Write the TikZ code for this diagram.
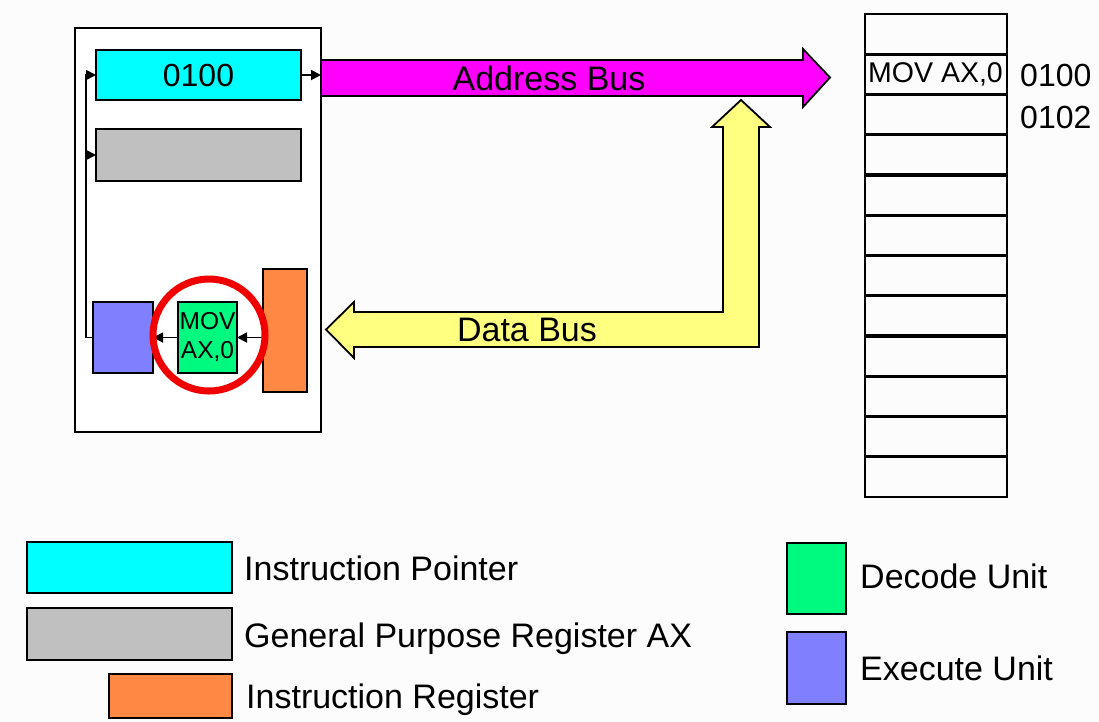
\documentclass[tikz,border=0pt]{standalone}
\usepackage{fontspec}
\setmainfont{Liberation Sans}
\usetikzlibrary{arrows.meta}
\definecolor{bgc}{RGB}{252,252,252}
\definecolor{ipc}{RGB}{0,255,255}
\definecolor{gpc}{RGB}{192,192,192}
\definecolor{irc}{RGB}{255,136,68}
\definecolor{dec}{RGB}{0,250,128}
\definecolor{exc}{RGB}{128,128,255}
\definecolor{abus}{RGB}{255,0,255}
\definecolor{dbus}{RGB}{255,255,128}
\definecolor{ring}{RGB}{240,0,0}
\tikzset{
  unit/.style={draw=black, line width=2, inner sep=0, outer sep=0, rectangle},
  wire/.style={line width=1.8, -{Triangle[length=10pt,width=10pt]}},
  bus/.style={draw=black, line width=1.8, line join=miter},
  lbl/.style={font=\fontsize{34}{40}\selectfont, inner sep=0},
  cell/.style={draw=black, line width=2, inner sep=0, outer sep=0, minimum width=142, minimum height=40.25},
}
\begin{document}
\begin{tikzpicture}[x=1pt, y=-1pt]
  \fill[bgc] (0,0) rectangle (1099,721);
  \useasboundingbox (0,0) rectangle (1099,721);

  % processor frame
  \node[unit, fill=white, minimum width=246, minimum height=404] (cpu) at (198,230) {};

  % registers and units
  \node[unit, fill=ipc, minimum width=205, minimum height=50, font=\fontsize{32}{36}\selectfont] (ip) at (198.5,75) {0100};
  \node[unit, fill=gpc, minimum width=205, minimum height=52] (gp) at (198.5,155) {};
  \node[unit, fill=exc, minimum width=60, minimum height=71] (ex) at (123,337.5) {};
  \node[unit, fill=dec, minimum width=59, minimum height=71, align=center,
        font=\fontsize{24.5}{29}\selectfont] (du) at (207.5,337.5) {MOV\\AX,0};
  \node[unit, fill=irc, minimum width=44, minimum height=123] (ir) at (285,330.5) {};

  % internal paths
  \draw[wire] (ex.west) -- ++(-7,0) coordinate (fb) |- (ip.west);
  \draw[wire] (fb |- gp.west) -- (gp.west);
  \draw[wire] (ip.east) -- (ip.east -| cpu.east);
  \draw[wire] (ir.west |- du.east) -- (du.east);
  \draw[wire] (du.west) -- (ex.east);

  % highlight ring
  \node[circle, draw=ring, line width=7, inner sep=0, minimum size=112] (hl) at (209,335) {};

  % address bus
  \draw[bus, fill=abus] (321,60) -- (803,60) -- (803,49) -- (830,77.5) -- (803,107)
    -- (803,96) -- (321,96) -- cycle;
  \node[lbl] (abl) at (549,78) {Address Bus};

  % data bus
  \draw[bus, fill=dbus] (326,329.5) -- (354,302) -- (354,312) -- (723,312) -- (723,127)
    -- (712,127) -- (741,100) -- (770,127) -- (759,127) -- (759,347) -- (354,347)
    -- (354,358) -- cycle;
  \node[lbl] (dbl) at (527,330) {Data Bus};

  % memory
  \foreach \k in {0,...,11}{
    \node[cell] (m\k) at (936,{14+40.25*(\k+0.5)}) {};
  }
  \foreach \k in {1,...,11}{
    \draw[line width=3.2] (m\k.north west) -- (m\k.north east);
  }
  \node[anchor=west, inner sep=0, font=\fontsize{28.5}{32}\selectfont] (ins) at ([xshift=3]m1.west) {MOV AX,0};
  \node[anchor=west, inner sep=0, font=\fontsize{32}{36}\selectfont] (a0) at (1020,75) {0100};
  \node[anchor=west, inner sep=0, font=\fontsize{32}{36}\selectfont] (a2) at (1020,117.5) {0102};

  % legend
  \node[unit, fill=ipc, minimum width=205, minimum height=51] (kip) at (129.5,567.5) {};
  \node[unit, fill=gpc, minimum width=205, minimum height=52] (kgp) at (129.5,634) {};
  \node[unit, fill=irc, minimum width=123, minimum height=44] (kir) at (170.5,696) {};
  \node[unit, fill=dec, minimum width=59, minimum height=71] (kdu) at (816.5,578.5) {};
  \node[unit, fill=exc, minimum width=59, minimum height=72] (kex) at (816.5,668) {};
  \node[lbl, anchor=base west] (tip) at (244,580) {Instruction Pointer};
  \node[lbl, anchor=base west] (tgp) at (244,647) {General Purpose Register AX};
  \node[lbl, anchor=base west] (tir) at (246,708) {Instruction Register};
  \node[lbl, anchor=base west] (tdu) at (860,588) {Decode Unit};
  \node[lbl, anchor=base west] (tex) at (860,680) {Execute Unit};
\end{tikzpicture}
\end{document}
